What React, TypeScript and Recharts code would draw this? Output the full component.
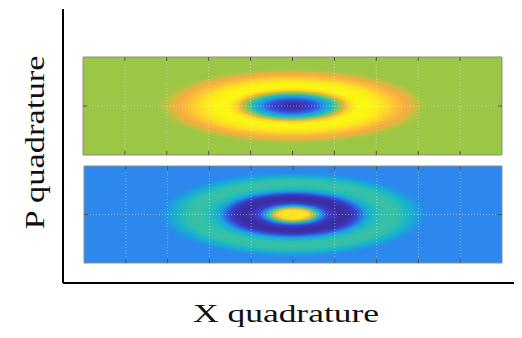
import React from 'react';
import { ComposedChart, XAxis, YAxis, ReferenceArea, ReferenceLine, Scatter, Label } from 'recharts';

// Quadrature axes of each phase-space panel
const xDomain = [-5, 5];
const pDomain = [-1.2, 1.2];
const xTicks = [-4, -3, -2, -1, 0, 1, 2, 3, 4];
const pTicks = [0];
const xGrid = [-4, -3, -2, -1, 1, 2, 3, 4];
const pGrid = [0];

// Centre of each distribution in phase space
const upperCentre = [{ x: 0, p: 0 }];
const lowerCentre = [{ x: 0, p: 0 }];

// Upper panel: radial profile of the distribution (fraction of envelope -> colour level)
const upperRadius = [0, 0.059, 0.119, 0.178, 0.237, 0.281, 0.319, 0.356, 0.385, 0.422, 0.481, 0.578, 0.667, 0.741, 0.8, 0.852, 0.904, 0.948, 1];
const upperLevel = [0.0, 0.02, 0.08, 0.18, 0.32, 0.44, 0.56, 0.7, 0.82, 0.94, 1.0, 1.0, 0.97, 0.92, 0.88, 0.85, 0.8, 0.74, 0.7];
const upperBackground = 0.7;
const upperEnvelope = { x: 3.2, p: 0.92 };

// Lower panel: radial profile of the distribution
const lowerRadius = [0, 0.058, 0.109, 0.138, 0.167, 0.196, 0.225, 0.261, 0.312, 0.362, 0.42, 0.464, 0.5, 0.543, 0.594, 0.652, 0.725, 0.797, 0.855, 0.913, 0.957, 1];
const lowerLevel = [0.93, 0.98, 0.95, 0.83, 0.62, 0.42, 0.25, 0.1, 0.03, 0.0, 0.03, 0.1, 0.22, 0.36, 0.46, 0.52, 0.54, 0.52, 0.45, 0.37, 0.31, 0.28];
const lowerBackground = 0.28;
const lowerEnvelope = { x: 3.22, p: 1.06 };

// Parula-like colour map
const colorMap: [number, string][] = [
  [0.0, '#3A2D9E'],
  [0.1, '#3B3FCC'],
  [0.2, '#2D5EE6'],
  [0.28, '#2C88EC'],
  [0.36, '#1AA3DC'],
  [0.44, '#18B5C8'],
  [0.52, '#2EBFAE'],
  [0.6, '#5EC37E'],
  [0.7, '#9CC645'],
  [0.78, '#CDBE3A'],
  [0.85, '#F4AC44'],
  [0.92, '#FDCB30'],
  [1.0, '#FAF513'],
];

function hexToRgb(h: string) {
  const n = parseInt(h.slice(1), 16);
  return [(n >> 16) & 255, (n >> 8) & 255, n & 255];
}

function levelColor(v: number) {
  const t = Math.max(0, Math.min(1, v));
  for (let i = 1; i < colorMap.length; i++) {
    const [v1, c1] = colorMap[i];
    const [v0, c0] = colorMap[i - 1];
    if (t <= v1) {
      const f = (t - v0) / (v1 - v0);
      const a = hexToRgb(c0);
      const b = hexToRgb(c1);
      const rgb = a.map((x, k) => Math.round(x + (b[k] - x) * f));
      return `rgb(${rgb[0]},${rgb[1]},${rgb[2]})`;
    }
  }
  return colorMap[colorMap.length - 1][1];
}

const serif = '"Liberation Serif", "Times New Roman", serif';

function makeEllipse(id: string, radius: number[], level: number[]) {
  return (props: any) => {
    const { x, y, width, height } = props;
    return (
      <g>
        <defs>
          <radialGradient id={id} cx="50%" cy="50%" r="50%">
            {radius.map((r, i) => (
              <stop key={i} offset={r} stopColor={levelColor(level[i])} />
            ))}
          </radialGradient>
        </defs>
        <ellipse
          cx={x + width / 2}
          cy={y + height / 2}
          rx={Math.abs(width) / 2}
          ry={Math.abs(height) / 2}
          fill={`url(#${id})`}
        />
      </g>
    );
  };
}

const noMarker = () => <g />;

const tickColor = '#505050';
const tickLenX = 0.1; // inward tick length along x, in x units
const tickLenP = 0.1; // inward tick length along p, in p units

type PanelProps = {
  id: string;
  centre: { x: number; p: number }[];
  radius: number[];
  level: number[];
  background: number;
  envelope: { x: number; p: number };
  width: number;
  height: number;
};

function PhasePanel({ id, centre, radius, level, background, envelope, width, height }: PanelProps) {
  const [x0, x1] = xDomain;
  const [p0, p1] = pDomain;
  return (
    <ComposedChart width={width} height={height} margin={{ top: 1, right: 1, bottom: 1, left: 1 }} data={centre}>
      <XAxis dataKey="x" type="number" domain={xDomain} allowDataOverflow hide />
      <YAxis dataKey="p" type="number" domain={pDomain} allowDataOverflow hide />
      <ReferenceArea
        x1={x0}
        x2={x1}
        y1={p0}
        y2={p1}
        fill={levelColor(background)}
        fillOpacity={1}
        stroke="#8c8c8c"
        strokeWidth={1}
        ifOverflow="visible"
      />
      <ReferenceArea
        x1={-envelope.x}
        x2={envelope.x}
        y1={-envelope.p}
        y2={envelope.p}
        ifOverflow="visible"
        shape={makeEllipse(id, radius, level)}
      />
      {xGrid.map((v) => (
        <ReferenceLine key={`gx${v}`} x={v} stroke="#ffffff" strokeOpacity={0.4} strokeDasharray="1 2" ifOverflow="visible" />
      ))}
      {pGrid.map((v) => (
        <ReferenceLine key={`gp${v}`} y={v} stroke="#ffffff" strokeOpacity={0.4} strokeDasharray="1 2" ifOverflow="visible" />
      ))}
      {xTicks.map((v) => (
        <ReferenceLine
          key={`tb${v}`}
          segment={[{ x: v, y: p0 }, { x: v, y: p0 + tickLenP }]}
          stroke={tickColor}
          ifOverflow="visible"
        />
      ))}
      {xTicks.map((v) => (
        <ReferenceLine
          key={`tt${v}`}
          segment={[{ x: v, y: p1 }, { x: v, y: p1 - tickLenP }]}
          stroke={tickColor}
          ifOverflow="visible"
        />
      ))}
      {pTicks.map((v) => (
        <ReferenceLine
          key={`tl${v}`}
          segment={[{ x: x0, y: v }, { x: x0 + tickLenX, y: v }]}
          stroke={tickColor}
          ifOverflow="visible"
        />
      ))}
      {pTicks.map((v) => (
        <ReferenceLine
          key={`tr${v}`}
          segment={[{ x: x1, y: v }, { x: x1 - tickLenX, y: v }]}
          stroke={tickColor}
          ifOverflow="visible"
        />
      ))}
      <Scatter dataKey="p" shape={noMarker} isAnimationActive={false} />
    </ComposedChart>
  );
}

const XTitle = (props: any) => {
  const vb = props.viewBox || { x: 55, y: 275, width: 456, height: 55 };
  return (
    <text
      x={vb.x + vb.width / 2 - 5}
      y={vb.y + vb.height - 16}
      textAnchor="middle"
      fontFamily={serif}
      fontSize={25}
      textLength={186}
      lengthAdjust="spacingAndGlyphs"
      fill="#111111"
    >
      X quadrature
    </text>
  );
};

const PTitle = (props: any) => {
  const vb = props.viewBox || { x: 0, y: 1, width: 55, height: 274 };
  const cx = vb.x + 35.5;
  const cy = vb.y + vb.height / 2 - 3.5;
  return (
    <text
      x={cx}
      y={cy}
      transform={`rotate(-90, ${cx}, ${cy})`}
      textAnchor="middle"
      fontFamily={serif}
      fontSize={27}
      textLength={174}
      lengthAdjust="spacingAndGlyphs"
      fill="#111111"
    >
      P quadrature
    </text>
  );
};

export default function App() {
  return (
    <div style={{ position: 'relative', width: 514, height: 330 }}>
      <ComposedChart width={514} height={330} margin={{ top: 1, right: 3, bottom: 0, left: 0 }} data={[]}>
        <XAxis
          type="number"
          domain={[-5.5, 5.5]}
          allowDataOverflow
          height={55}
          tick={false}
          tickLine={false}
          axisLine={{ stroke: '#000000', strokeWidth: 2 }}
        >
          <Label content={XTitle} />
        </XAxis>
        <YAxis
          type="number"
          domain={[-3, 3]}
          allowDataOverflow
          width={55}
          tick={false}
          tickLine={false}
          axisLine={{ stroke: '#000000', strokeWidth: 2 }}
        >
          <Label content={PTitle} />
        </YAxis>
      </ComposedChart>
      <div style={{ position: 'absolute', left: 74, top: 48 }}>
        <PhasePanel
          id="upperWigner"
          centre={upperCentre}
          radius={upperRadius}
          level={upperLevel}
          background={upperBackground}
          envelope={upperEnvelope}
          width={421}
          height={100}
        />
      </div>
      <div style={{ position: 'absolute', left: 75, top: 157 }}>
        <PhasePanel
          id="lowerWigner"
          centre={lowerCentre}
          radius={lowerRadius}
          level={lowerLevel}
          background={lowerBackground}
          envelope={lowerEnvelope}
          width={420}
          height={99}
        />
      </div>
    </div>
  );
}
